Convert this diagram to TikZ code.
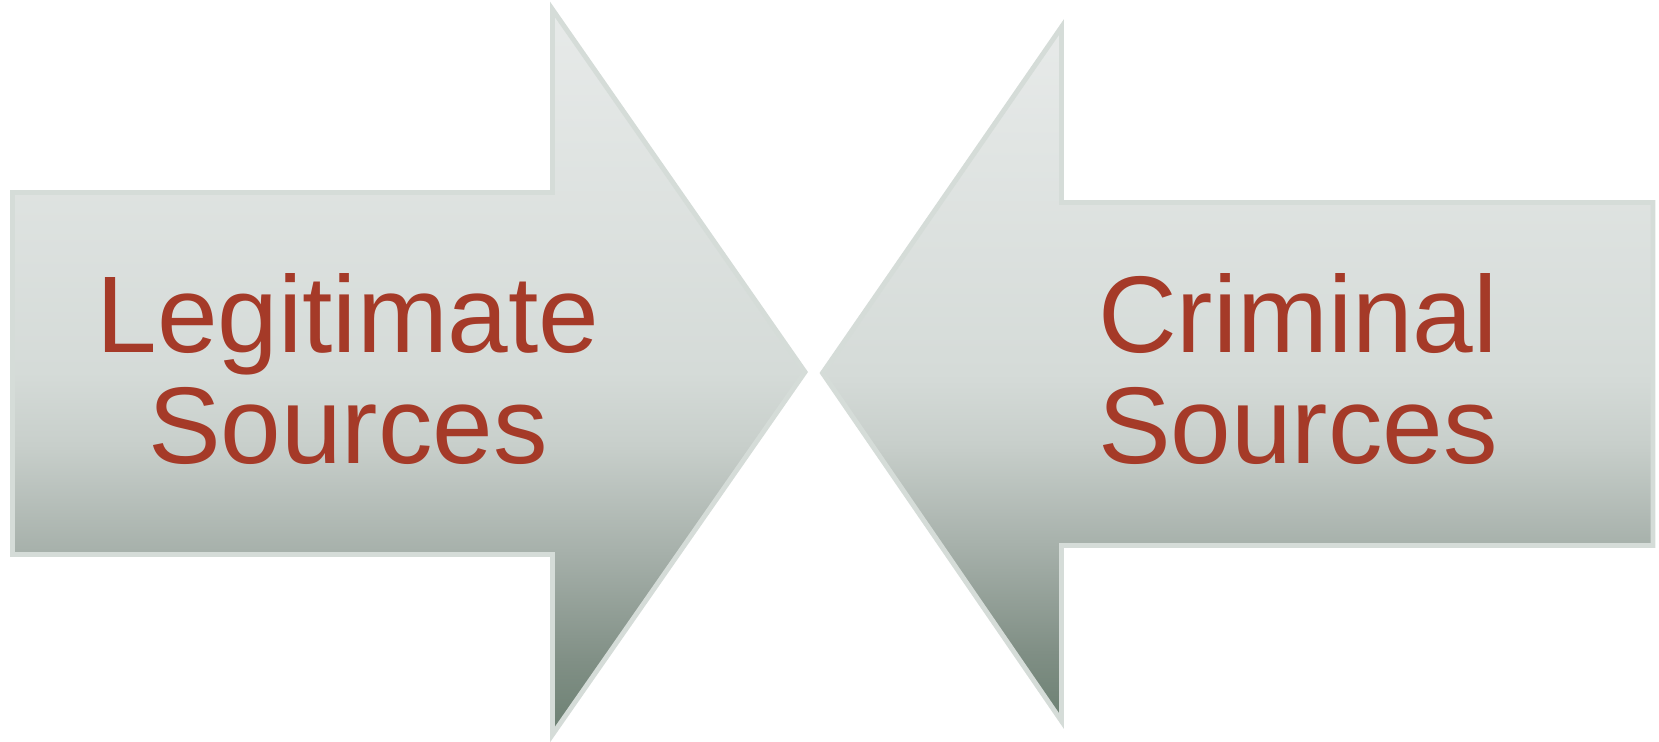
\documentclass[tikz,border=0pt]{standalone}
\usepackage{fontspec}
\setmainfont{Liberation Sans}
\usepackage{tikz}
\definecolor{srcred}{RGB}{165,58,40}
\definecolor{rimgray}{RGB}{213,220,216}
\definecolor{fadeA}{RGB}{108,128,114}
\definecolor{fadeB}{RGB}{128,143,133}
\definecolor{fadeC}{RGB}{166,176,170}
\definecolor{fadeD}{RGB}{200,207,203}
\definecolor{fadeE}{RGB}{213,219,216}
\definecolor{fadeF}{RGB}{231,234,233}
\pgfdeclareverticalshading{arrowfade}{100bp}{color(0bp)=(fadeA); color(25bp)=(fadeA); color(30bp)=(fadeB); color(37.5bp)=(fadeC); color(45bp)=(fadeD); color(50bp)=(fadeE); color(75bp)=(fadeF); color(100bp)=(fadeF)}

\begin{document}
\begin{tikzpicture}[x=0.01cm, y=-0.01cm,
  arrowbody/.style={shading=arrowfade, draw=rimgray, line width=1.4pt},
  srctext/.style={text=srcred, align=center, font=\fontsize{31}{31.6}\selectfont}]
 \useasboundingbox (0,0) rectangle (1659,741);
  % arrow from the left
  \shadedraw[arrowbody] (12.5,192.5) -- (552.5,192.5) -- (552.5,9.5) -- (805,372) -- (552.5,734.5) -- (552.5,554.5) -- (12.5,554.5) -- cycle;
  % arrow from the right
  \shadedraw[arrowbody] (1653,202.5) -- (1061.5,202.5) -- (1061.5,27) -- (822.5,373) -- (1061.5,721) -- (1061.5,545.5) -- (1653,545.5) -- cycle;
  \node[srctext] (legit) at (348,369) {Legitimate\\Sources};
  \node[srctext] (crim) at (1298,369) {Criminal\\Sources};
\end{tikzpicture}
\end{document}
